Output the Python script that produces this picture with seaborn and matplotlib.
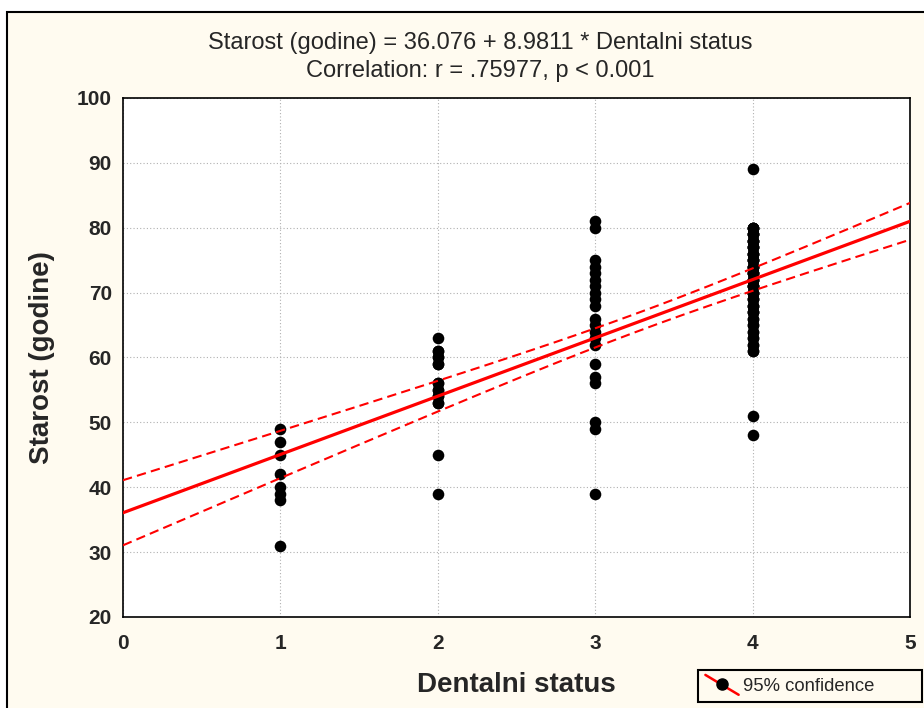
import numpy as np
import pandas as pd
import matplotlib
matplotlib.use("Agg")
import matplotlib.pyplot as plt
import seaborn as sns
from matplotlib.lines import Line2D
from matplotlib.patches import Rectangle
from matplotlib.legend_handler import HandlerBase

# ---- data (counts estimate overlapping points) ----
status_1_age = [49, 47, 45, 42, 40, 39, 38, 31]
status_1_cnt = [1, 1, 1, 1, 1, 1, 1, 1]
status_2_age = [63, 61, 60, 59, 56, 55, 54, 53, 45, 39]
status_2_cnt = [1, 2, 2, 2, 2, 2, 2, 2, 1, 1]
status_3_age = [81, 80, 75, 74, 73, 72, 71, 70, 69, 68, 66, 65, 64, 63, 62, 59, 57, 56, 50, 49, 39]
status_3_cnt = [1] * 21
status_4_age = [89, 80, 79, 78, 77, 76, 75, 74, 73, 72, 71, 70, 69, 68, 67, 66, 65, 64, 63, 62, 61, 51, 48]
status_4_cnt = [1, 4, 4, 4, 4, 4, 4, 4, 4, 4, 4, 4, 3, 3, 3, 2, 2, 2, 2, 2, 2, 1, 1]
title_lines = ["Starost (godine) = 36.076 + 8.9811 * Dentalni status",
               "Correlation: r = .75977, p < 0.001"]
x_ticks = [0, 1, 2, 3, 4, 5]
y_ticks = [20, 30, 40, 50, 60, 70, 80, 90, 100]

xs, ys = [], []
for status, ages, cnts in [(1, status_1_age, status_1_cnt), (2, status_2_age, status_2_cnt),
                           (3, status_3_age, status_3_cnt), (4, status_4_age, status_4_cnt)]:
    for a, c in zip(ages, cnts):
        xs += [status] * c
        ys += [a] * c
x = np.array(xs, dtype=float)
y = np.array(ys, dtype=float)
df = pd.DataFrame({"Dentalni status": x, "Starost (godine)": y})

# regression + 95% confidence band
n = len(x)
b1, b0 = np.polyfit(x, y, 1)
resid = y - (b0 + b1 * x)
s = np.sqrt(np.sum(resid**2) / (n - 2))
xg = np.linspace(0, 5, 200)
yg = b0 + b1 * xg
se = s * np.sqrt(1/n + (xg - x.mean())**2 / np.sum((x - x.mean())**2))
t = 1.98
line_df = pd.DataFrame({"x": xg, "fit": yg, "lo": yg - t*se, "hi": yg + t*se})

sns.set_style("white")
plt.rcParams['font.family'] = ['Liberation Sans', 'DejaVu Sans']

cream = '#FFFBF0'
fig = plt.figure(figsize=(9.24, 7.08), dpi=100, facecolor='white')
fig.patches.append(Rectangle((7.5/924, -0.01), 1.0, 1 - 12/708 + 0.01, transform=fig.transFigure,
                             facecolor=cream, edgecolor='black', linewidth=1.5, zorder=-10))
ax = fig.add_axes([123/924, 1 - 617/708, (910 - 123)/924, (617 - 98)/708])
ax.set_facecolor('white')

sns.scatterplot(data=df, x="Dentalni status", y="Starost (godine)", ax=ax,
                color='black', s=70, edgecolor='black', linewidth=0, zorder=3, legend=False)
sns.lineplot(data=line_df, x="x", y="fit", ax=ax, color='#FF0000', linewidth=2.3, zorder=4)
sns.lineplot(data=line_df, x="x", y="lo", ax=ax, color='#FF0000', linewidth=1.5, linestyle=(0, (4.5, 2.5)), zorder=4)
sns.lineplot(data=line_df, x="x", y="hi", ax=ax, color='#FF0000', linewidth=1.5, linestyle=(0, (4.5, 2.5)), zorder=4)

ax.set_xlim(0, 5)
ax.set_ylim(20, 100)
ax.set_xticks(x_ticks)
ax.set_yticks(y_ticks)
ax.set_xticklabels([str(v) for v in x_ticks], fontsize=15, fontweight='bold')
ax.set_yticklabels([str(v) for v in y_ticks], fontsize=15, fontweight='bold')
ax.tick_params(axis='both', direction='in', length=3, width=1.2, color='black')
ax.tick_params(axis='x', pad=12)
ax.tick_params(axis='y', pad=8)
ax.grid(True, color='#B0B0B0', linestyle=(0, (1, 2)), linewidth=0.8)
ax.set_axisbelow(True)
for sp in ax.spines.values():
    sp.set_visible(True)
    sp.set_color('black')
    sp.set_linewidth(1.2)

ax.set_xlabel("Dentalni status", fontsize=20, fontweight='bold', labelpad=14)
ax.set_ylabel("Starost (godine)", fontsize=20, fontweight='bold', labelpad=16)

fig.text(480/924, 1 - 43/708, title_lines[0], ha='center', va='center', fontsize=17)
fig.text(480/924, 1 - 71/708, title_lines[1], ha='center', va='center', fontsize=17)


class DiagHandler(HandlerBase):
    def create_artists(self, legend, orig_handle, xdescent, ydescent, width, height, fontsize, trans):
        ln = Line2D([-xdescent, -xdescent + width], [height + 2, -3], color='#FF0000',
                    linewidth=1.8, transform=trans)
        dot = Line2D([-xdescent + width / 2], [height / 2], marker='o', markersize=8,
                     markerfacecolor='black', markeredgecolor='black', linestyle='none',
                     transform=trans)
        return [ln, dot]


handle = Line2D([0], [0], color='#FF0000')
leg = fig.legend([handle], ["95% confidence"], loc='lower left',
                 bbox_to_anchor=(698/924, 6/708, 224/924, 34/708), mode='expand',
                 fontsize=13.3, frameon=True, handler_map={Line2D: DiagHandler()},
                 fancybox=False, edgecolor='black', facecolor=cream, framealpha=1,
                 handlelength=1.8, handletextpad=0.25, borderpad=0.4, borderaxespad=0)
leg.get_frame().set_linewidth(1.5)

fig.savefig("out.png", dpi=100, facecolor='white')
